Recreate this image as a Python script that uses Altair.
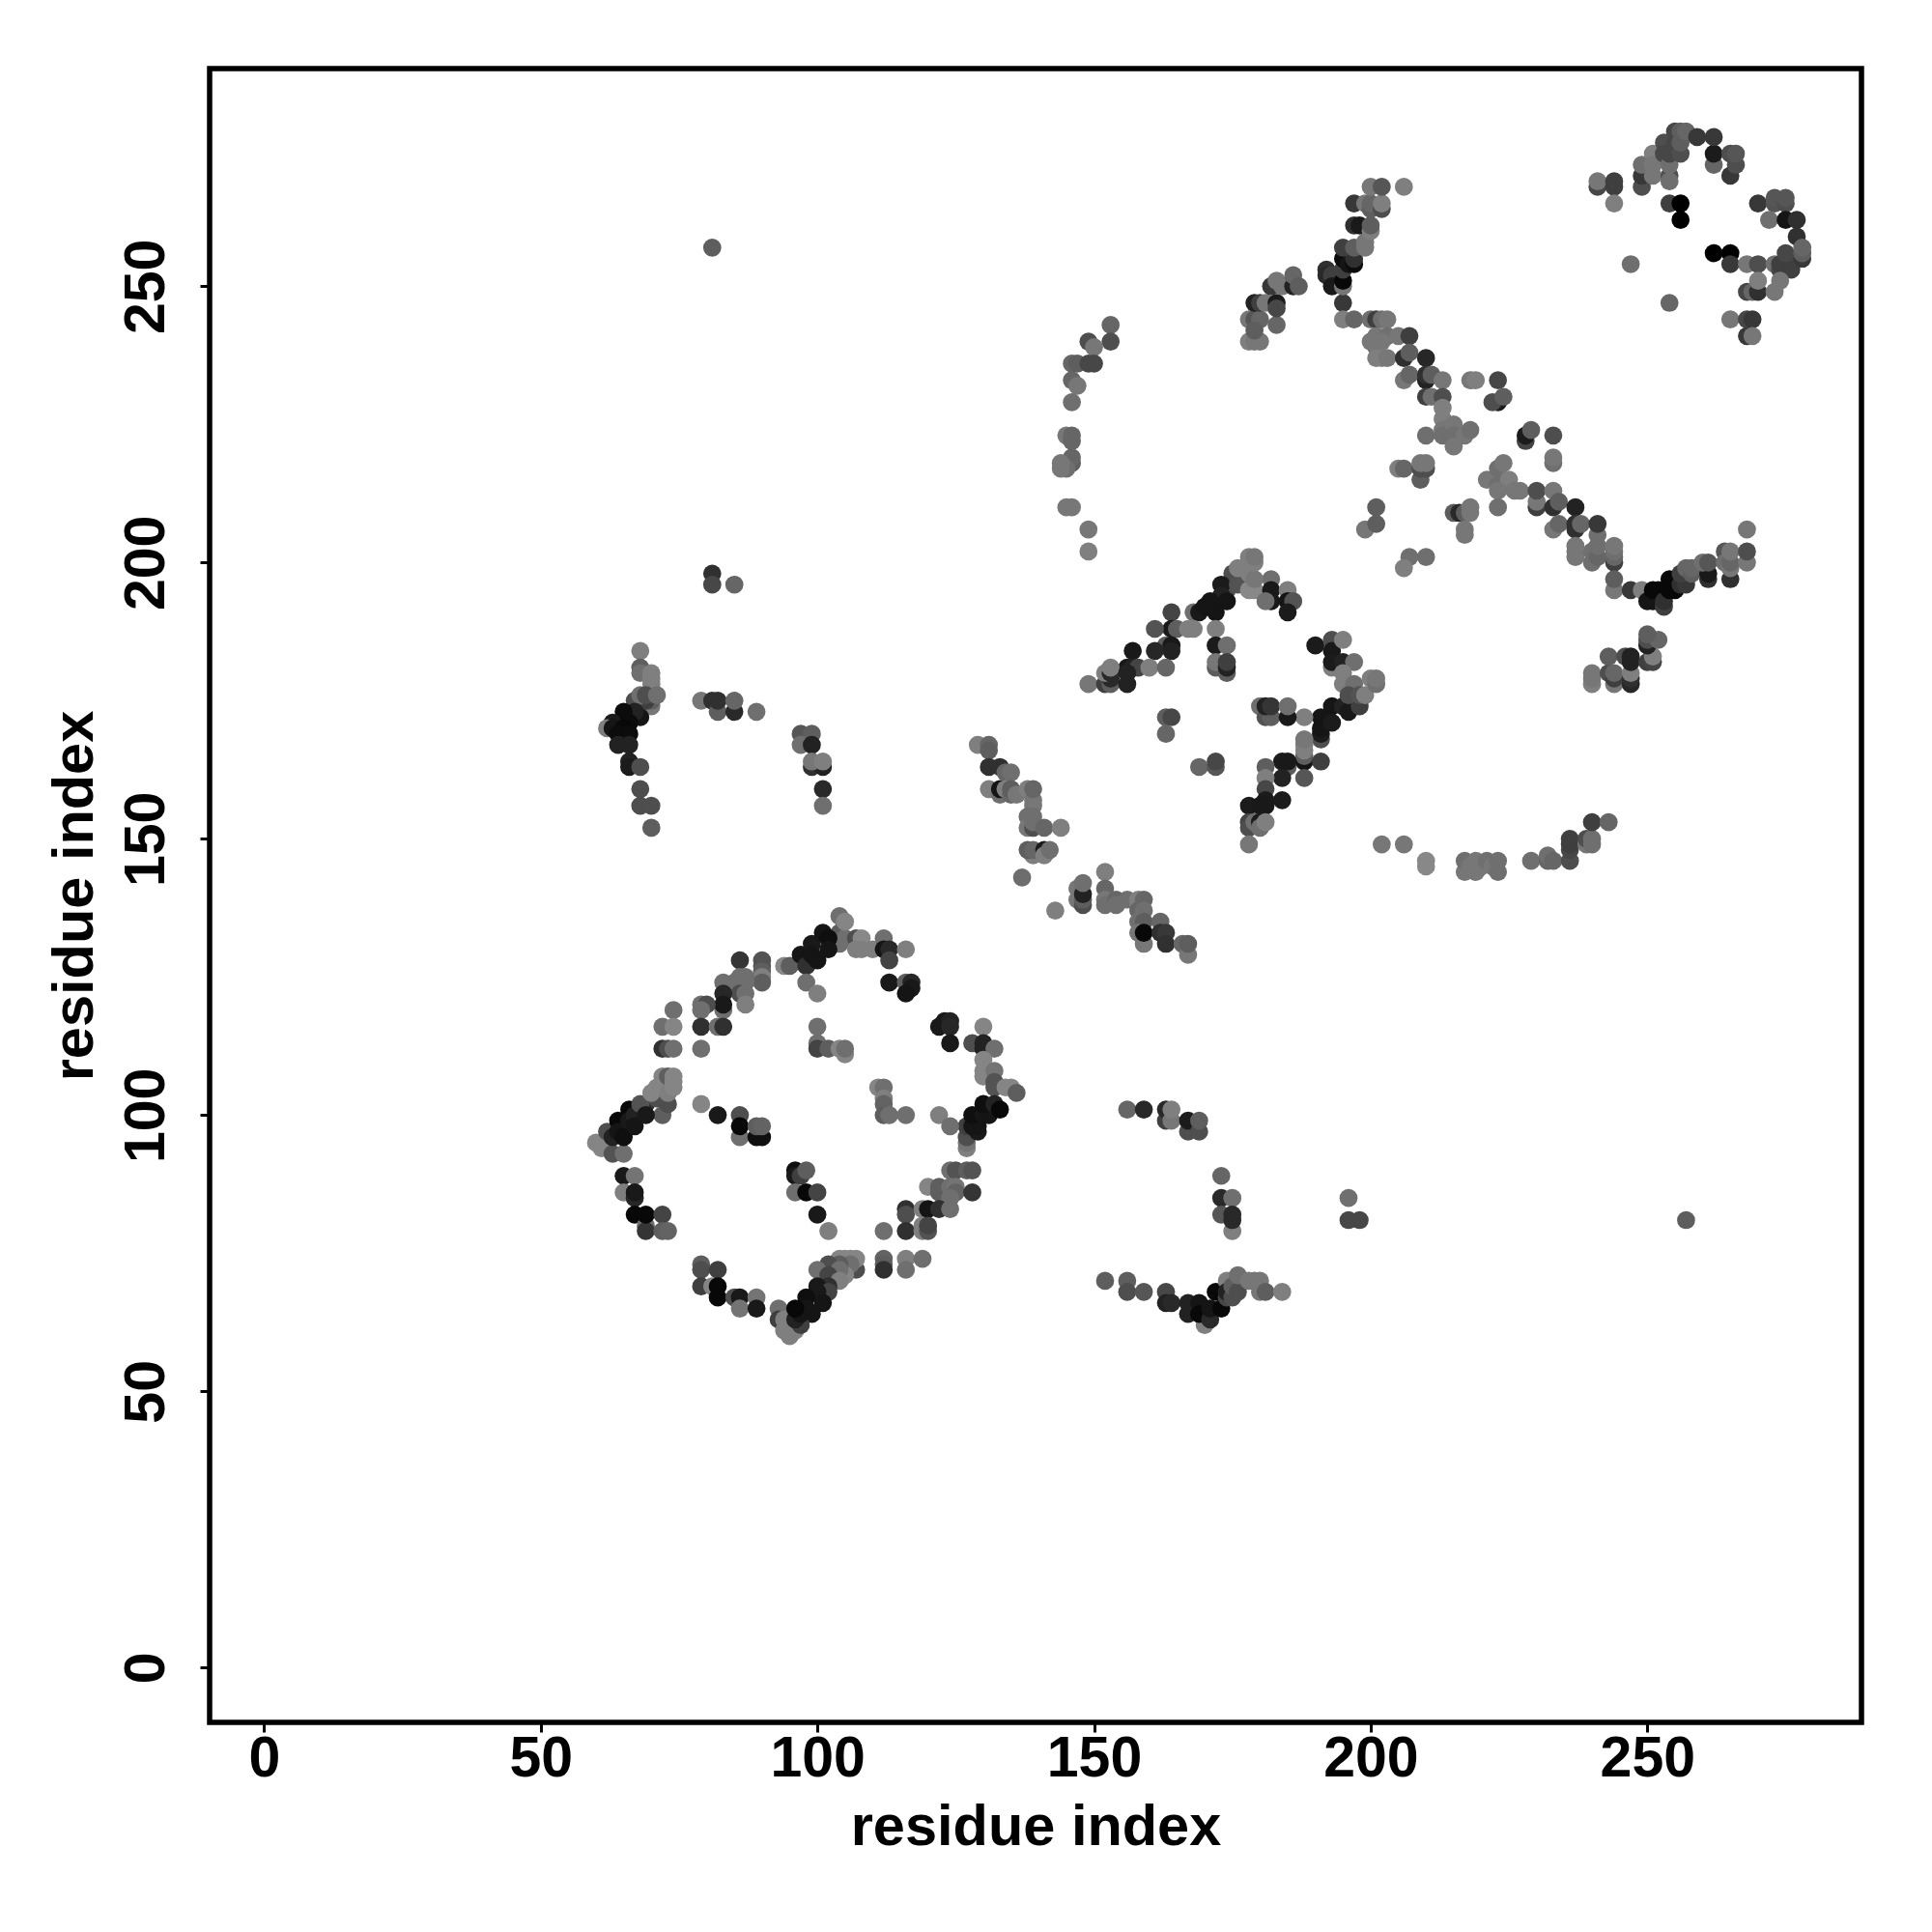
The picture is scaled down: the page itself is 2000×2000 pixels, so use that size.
import altair as alt
import pandas as pd

# (residue i, residue j, shade level 0 = strongest ... 136 = weakest)
diamond_top = [
(137,143,0x6e),(143,137,0x80),(104,136,0x70),(104,133,0x60),(104,131,0x70),(105,132,0x70),(107,132,0x50),(108,132,0x88),(107,130,0x80),(108,130,0x80),(110,130,0x80),(112,132,0x70),(112,130,0x10),(113,130,0x28),(113,128,0x45),(116,130,0x80),
(94,127,0x88),(95,127,0x60),(97,129,0x10),(98,127,0x30),(99,131,0x15),(99,129,0x10),(100,128,0x10),(101,133,0x10),(102,132,0x0a),(102,130,0x10),(105,135,0x85),
(113,124,0x15),(116,124,0x60),(117,124,0x25),(117,123,0x15),(116,122,0x10),(98,124,0x70),(100,122,0x80),
(86,128,0x35),(90,128,0x55),(90,127,0x55),(90,126,0x60),(90,125,0x80),(90,124,0x60),(83,124,0x70),(85,124,0x70),(86,125,0x70),(87,125,0x70),(87,124,0x70),(86,122,0x50),(87,122,0x70),(87,120,0x80),
(83,119,0x70),(83,122,0x25),(83,120,0x15),(79,120,0x70),(80,120,0x50),(79,119,0x70),(74,119,0x70),(72,116,0x70),(74,116,0x85),(79,116,0x30),(82,116,0x70),(83,116,0x30),
(72,112,0x30),(73,112,0x50),(74,112,0x70),(79,112,0x70),(100,116,0x70),(100,113,0x70),(100,112,0x45),(102,112,0x60),(104,112,0x85),(105,111,0x85),(105,112,0x70),
]
diamond_right = [
(122,116,0x15),(123,117,0x15),(124,117,0x20),(124,116,0x25),(124,113,0x15),(130,116,0x85),(128,113,0x50),(130,113,0x20),(130,112,0x20),(132,112,0x70),
(130,110,0x85),(130,108,0x85),(130,107,0x85),(132,108,0x75),(132,106,0x55),(132,105,0x55),(134,105,0x85),(135,105,0x85),(136,104,0x60),
(127,94,0x80),(127,95,0x75),(127,96,0x50),(127,98,0x40),(129,97,0x15),(129,98,0x10),(128,98,0x10),(128,100,0x0a),(130,100,0x10),(131,100,0x10),(130,102,0x0a),(132,102,0x20),(133,101,0x05),
(122,100,0x80),(124,98,0x70),(111,105,0x85),(112,105,0x70),(112,103,0x80),(112,102,0x65),(112,100,0x60),(113,100,0x70),(116,100,0x70),
]
diamond_left = [
(60,95,0x85),(61,94,0x85),(63,93,0x55),(65,93,0x70),(62,97,0x50),(63,96,0x20),(64,99,0x05),(64,97,0x10),(65,96,0x0a),(66,101,0x05),(66,99,0x15),(67,100,0x20),(67,98,0x10),
(72,100,0x60),(73,102,0x50),(69,102,0x30),(68,102,0x55),(69,100,0x15),(71,103,0x50),(70,104,0x85),(71,105,0x85),(72,105,0x85),(73,104,0x80),(72,107,0x85),(73,107,0x60),(74,107,0x85),(74,106,0x85),(74,105,0x85),
(79,102,0x85),(82,100,0x15),(86,100,0x50),(86,96,0x70),(86,98,0x05),(89,96,0x0a),(90,96,0x0a),(89,98,0x60),(90,98,0x65),
(65,89,0x15),(67,89,0x75),(65,86,0x80),(67,85,0x25),(67,86,0x15),(67,82,0x05),(69,80,0x70),(69,79,0x35),(69,82,0x05),(72,82,0x45),(72,79,0x60),(73,79,0x65),
(96,90,0x0a),(96,89,0x15),(97,89,0x40),(98,90,0x60),(96,86,0x70),(98,86,0x05),(100,86,0x45),(100,82,0x15),(102,79,0x80),
]
diamond_bottom = [
(124,90,0x70),(125,90,0x55),(127,90,0x60),(128,90,0x55),(120,87,0x85),(122,87,0x60),(122,86,0x60),(124,87,0x70),(125,87,0x75),(125,86,0x65),(124,85,0x70),(128,86,0x35),
(116,83,0x30),(116,82,0x50),(119,83,0x80),(120,83,0x10),(122,83,0x30),(124,83,0x70),(116,79,0x30),(119,80,0x80),(119,79,0x80),(120,79,0x55),(120,80,0x45),(112,79,0x70),
(112,74,0x65),(112,73,0x60),(112,72,0x30),(116,74,0x80),(116,72,0x70),(119,74,0x70),
(107,72,0x50),(107,74,0x85),(106,74,0x85),(105,74,0x85),(104,74,0x85),(106,73,0x70),(105,71,0x85),(104,73,0x60),(102,73,0x50),(100,72,0x70),(104,72,0x70),(102,71,0x45),(104,70,0x80),(102,69,0x30),(100,69,0x15),(102,68,0x45),(100,68,0x15),
(101,66,0x10),(98,67,0x0a),(98,65,0x10),(99,64,0x10),(93,65,0x70),(93,63,0x40),(94,63,0x80),(94,61,0x80),(95,60,0x80),(96,61,0x80),(97,62,0x40),(96,63,0x20),(97,64,0x10),(96,65,0x05),
(79,73,0x60),(79,72,0x50),(82,72,0x40),(79,69,0x40),(81,69,0x85),(82,69,0x05),(82,67,0x05),(85,67,0x50),(86,67,0x15),(86,65,0x75),(89,67,0x75),(89,65,0x15),
]
centre_top = [
(149,206,0x78),(149,202,0x80),(207,201,0x70),(210,201,0x70),(206,199,0x80),
(174,195,0x50),(174,196,0x50),(175,198,0x50),(173,196,0x18),(173,194,0x20),(174,193,0x10),(176,196,0x55),(178,195,0x88),(179,195,0x88),(182,197,0x70),(182,195,0x15),(182,193,0x15),(181,193,0x70),(185,195,0x80),(185,193,0x10),(186,193,0x55),(185,191,0x18),
(176,199,0x80),(178,198,0x80),(179,197,0x78),(178,201,0x80),(179,200,0x80),(179,201,0x78),
(168,191,0x70),(169,191,0x15),(170,192,0x10),(171,193,0x10),(172,191,0x10),
(164,191,0x45),(164,188,0x15),(161,188,0x55),(165,188,0x60),(167,188,0x80),(168,188,0x80),(172,188,0x80),(172,185,0x18),(174,185,0x70),(172,181,0x60),(172,182,0x78),(174,180,0x60),(174,181,0x20),(174,182,0x40),
(163,185,0x60),(164,185,0x15),(164,184,0x20),(161,184,0x25),(157,184,0x15),(156,181,0x15),(157,181,0x20),(158,181,0x45),(160,181,0x80),(163,181,0x68),
(149,178,0x78),(152,178,0x40),(153,178,0x60),(153,179,0x28),(152,180,0x80),(153,180,0x28),(153,181,0x80),(156,178,0x20),(156,180,0x20),
]
centre_right = [
(190,185,0x18),(193,186,0x50),(193,184,0x15),(195,186,0x80),(193,181,0x80),(193,182,0x18),(195,182,0x20),(197,182,0x70),(195,180,0x80),(195,178,0x80),(197,178,0x70),
(193,174,0x10),(195,174,0x20),(196,173,0x15),(198,174,0x40),(196,176,0x50),(198,176,0x55),(199,176,0x80),(200,179,0x80),(201,178,0x70),(201,179,0x78),
(191,168,0x50),(191,169,0x18),(191,170,0x10),(191,172,0x10),(193,171,0x18),(188,172,0x80),
(180,174,0x70),(181,172,0x55),(182,172,0x60),(181,174,0x20),(182,174,0x35),(185,172,0x15),(185,174,0x70),
(163,172,0x60),(164,172,0x48),(163,169,0x68),(169,163,0x68),(172,163,0x58),(172,164,0x48),
(188,164,0x10),(188,165,0x60),(188,166,0x80),(188,167,0x80),(188,168,0x78),(191,164,0x40),(185,163,0x60),(184,164,0x18),(185,164,0x15),(184,161,0x20),(188,161,0x58),
(181,163,0x60),(181,161,0x80),(181,159,0x48),(184,157,0x18),(181,157,0x18),(178,156,0x18),(180,156,0x15),(181,156,0x15),
(178,153,0x45),(178,152,0x50),(179,153,0x70),(180,153,0x18),(180,152,0x70),(181,153,0x80),(178,149,0x78),
(202,149,0x78),(206,149,0x78),(210,146,0x88),(210,145,0x88),
]
strand_lower = [
(217,144,0x78),(217,146,0x70),(218,145,0x78),(219,144,0x78),(219,146,0x78),(220,145,0x78),(221,146,0x70),(222,145,0x78),(223,144,0x70),(223,146,0x70),
(229,146,0x70),(232,146,0x68),(232,147,0x70),(233,146,0x68),(236,146,0x50),(236,148,0x48),(236,149,0x40),(236,150,0x40),
(239,149,0x78),(239,150,0x50),(240,149,0x70),(240,150,0x70),(240,153,0x40),(243,153,0x68),
]
strand_mid = [
(129,167,0x80),(131,167,0x68),(131,166,0x60),(131,163,0x30),(133,163,0x30),(134,162,0x68),(135,162,0x70),
(131,159,0x80),(133,158,0x70),(133,159,0x10),(134,159,0x80),(135,158,0x68),(135,159,0x60),(136,158,0x78),(138,159,0x80),(139,157,0x78),(139,156,0x78),(138,154,0x70),(138,152,0x78),(139,152,0x50),(139,153,0x70),(139,154,0x70),(139,159,0x68),(141,152,0x68),(144,152,0x80),
(139,147,0x80),(138,148,0x60),(139,148,0x68),(141,148,0x18),(141,147,0x80),(142,148,0x70),
(152,144,0x80),(147,141,0x78),(147,139,0x78),(148,138,0x50),(148,139,0x60),(148,140,0x20),(148,142,0x70),
(152,141,0x68),(152,139,0x78),(152,138,0x70),(154,139,0x68),(154,138,0x70),(156,139,0x70),(158,138,0x78),(158,139,0x80),(159,139,0x68),(158,137,0x68),(159,137,0x70),(158,135,0x70),(159,135,0x60),(162,135,0x68),(158,133,0x78),(159,131,0x78),(159,133,0x05),
(162,133,0x30),(163,133,0x38),(163,131,0x30),(166,131,0x68),(167,129,0x78),(167,131,0x60),
]
strand_upper = [
(195,247,0x38),(195,244,0x80),(197,244,0x68),(200,244,0x70),(201,244,0x40),(202,244,0x70),(203,244,0x78),
(201,239,0x70),(200,240,0x78),(201,241,0x78),(203,241,0x70),(202,240,0x78),(205,241,0x78),(207,241,0x40),
(201,237,0x80),(202,237,0x80),(203,237,0x78),(206,237,0x30),(207,238,0x60),(210,237,0x25),
(206,233,0x78),(207,234,0x68),(210,233,0x20),(210,234,0x30),(211,234,0x60),(213,233,0x78),
(210,230,0x40),(211,230,0x70),(213,230,0x50),(218,233,0x78),(219,233,0x80),(223,233,0x48),(223,229,0x18),(222,229,0x50),(224,230,0x60),
(213,228,0x80),(213,226,0x80),(210,223,0x70),(213,224,0x78),(213,223,0x70),(215,225,0x78),(215,223,0x70),(215,221,0x78),(217,223,0x78),(218,224,0x70),
(205,217,0x80),(206,217,0x68),(209,215,0x60),(209,217,0x50),(210,217,0x50),(209,218,0x78),(210,218,0x78),(201,210,0x60),(199,206,0x78),(201,207,0x60),
(228,222,0x45),(228,223,0x18),(229,224,0x60),(233,223,0x50),(233,218,0x70),(233,219,0x78),
(221,215,0x78),(223,217,0x70),(224,218,0x78),(223,214,0x70),(225,215,0x80),(223,213,0x78),(226,213,0x78),(227,213,0x78),(223,210,0x70),
(215,209,0x60),(216,209,0x28),(217,209,0x60),(218,210,0x78),(218,209,0x78),(217,206,0x78),(217,205,0x78),
(230,210,0x40),(230,211,0x78),(230,213,0x50),(233,210,0x30),(233,213,0x78),(234,211,0x60),(237,210,0x20),(233,206,0x78),(234,207,0x68),(237,206,0x30),(237,207,0x30),(238,207,0x68),(241,205,0x70),(241,207,0x38),
(237,201,0x78),(237,202,0x78),(237,203,0x78),(240,200,0x70),(240,202,0x70),(241,201,0x68),(241,203,0x70),
(244,200,0x40),(244,201,0x68),(244,202,0x70),(244,203,0x78),(244,195,0x78),(244,197,0x60),(247,195,0x38),
]
arc_right = [
(249,195,0x80),(250,193,0x10),(251,193,0x10),(251,195,0x05),(252,195,0x05),(253,192,0x40),(253,193,0x30),(254,195,0x05),(255,195,0x05),(254,197,0x05),(256,196,0x30),(257,196,0x38),(256,198,0x40),(257,199,0x68),(258,198,0x60),(258,199,0x68),
(261,197,0x30),(261,198,0x15),(260,200,0x70),(261,200,0x58),(265,197,0x30),(264,202,0x58),(264,200,0x70),(265,199,0x78),(265,200,0x68),(265,202,0x78),(268,200,0x78),(268,202,0x50),(268,206,0x78),
(240,178,0x80),(240,179,0x78),(240,180,0x78),(243,180,0x50),(244,178,0x78),(244,179,0x40),(244,180,0x68),(247,178,0x25),(247,179,0x30),(247,180,0x80),(243,183,0x60),(246,183,0x50),(247,182,0x20),(247,183,0x20),
(250,182,0x40),(251,182,0x45),(251,183,0x80),(250,185,0x20),(250,186,0x50),(252,186,0x68),(250,187,0x60),
]
helix_top = [
(153,243,0x68),(153,240,0x50),(149,240,0x50),(150,239,0x78),(146,236,0x68),(147,236,0x60),(149,236,0x48),(150,236,0x48),(146,233,0x68),(147,232,0x78),(146,229,0x70),
(145,223,0x78),(146,223,0x68),(146,222,0x68),(146,218,0x60),(146,219,0x68),(145,217,0x70),(144,218,0x78),(144,217,0x78),(145,210,0x78),(146,210,0x78),
(178,240,0x80),(179,240,0x78),(180,240,0x78),(178,244,0x78),(179,244,0x58),(180,244,0x68),(179,242,0x60),(183,243,0x68),(179,247,0x20),(180,247,0x40),(181,247,0x78),(183,247,0x18),(183,246,0x48),
(182,250,0x38),(183,251,0x78),(184,250,0x78),(186,250,0x20),(186,252,0x68),(187,250,0x60),
(192,253,0x30),(192,252,0x28),(193,252,0x40),(193,250,0x15),(195,250,0x78),(195,251,0x05),(195,253,0x40),(195,255,0x08),(196,254,0x10),(197,254,0x08),(197,255,0x30),(195,257,0x40),(197,257,0x60),(199,258,0x78),(199,257,0x78),
(197,261,0x30),(198,261,0x15),(200,260,0x80),(200,261,0x60),(197,265,0x38),(199,265,0x78),(200,264,0x60),(200,265,0x68),(202,264,0x50),(202,265,0x80),(200,268,0x78),(202,268,0x58),(206,268,0x80),
]
corner = [
(241,268,0x48),(241,269,0x78),(244,268,0x40),(244,269,0x40),(244,265,0x80),(247,254,0x70),(254,247,0x68),
(254,265,0x40),(256,265,0x00),(256,262,0x00),(262,256,0x00),(265,256,0x00),(265,254,0x38),
(249,268,0x50),(249,270,0x38),(249,272,0x70),(251,274,0x80),(251,270,0x78),(251,272,0x78),(253,276,0x50),(253,274,0x48),(254,270,0x50),(254,269,0x70),(254,272,0x70),(254,274,0x48),(255,278,0x48),(255,276,0x48),(256,274,0x50),(256,276,0x60),(256,278,0x60),(257,278,0x68),
(259,277,0x38),(262,272,0x68),(262,274,0x18),(262,277,0x38),(265,270,0x38),(265,274,0x50),(266,272,0x50),(266,274,0x58),
(270,265,0x38),(273,265,0x55),(273,266,0x58),(275,265,0x50),(275,266,0x58),(272,262,0x70),(275,262,0x10),(277,262,0x30),(277,259,0x30),
(268,254,0x78),(270,254,0x50),(273,254,0x70),(274,253,0x48),(274,254,0x40),(276,253,0x40),(276,255,0x40),(275,256,0x48),(278,255,0x38),(278,256,0x60),(278,257,0x68),
(268,249,0x48),(269,249,0x68),(270,249,0x30),(270,251,0x80),(274,251,0x78),(273,249,0x78),
(265,244,0x78),(268,244,0x48),(269,244,0x38),(268,241,0x38),(269,241,0x78),
]
left_arc = [
(68,184,0x80),(68,181,0x60),(68,180,0x70),(70,180,0x80),(70,179,0x80),(70,178,0x80),(70,174,0x78),(70,175,0x60),(69,175,0x40),(67,175,0x50),(68,176,0x70),(69,176,0x50),(71,176,0x70),
(68,172,0x10),(67,173,0x20),(65,173,0x08),(66,171,0x08),(63,171,0x18),(62,170,0x80),(63,170,0x10),(65,170,0x05),(64,169,0x08),(66,169,0x08),(64,167,0x20),(66,167,0x20),
(66,164,0x20),(66,163,0x18),(68,163,0x50),(68,159,0x50),(68,156,0x50),(70,156,0x50),(70,152,0x60),
(79,175,0x78),(81,175,0x30),(82,173,0x60),(82,175,0x30),(85,173,0x28),(85,175,0x68),(89,173,0x70),
(97,169,0x58),(99,169,0x60),(97,167,0x70),(99,167,0x20),(99,163,0x30),(101,163,0x20),(99,164,0x78),(101,164,0x80),(101,159,0x28),(101,156,0x70),
(81,257,0x60),(81,198,0x30),(81,196,0x48),(85,196,0x68),
]
lower_arc = [
(156,101,0x68),(159,101,0x28),(163,99,0x40),(163,101,0x28),(164,99,0x78),(164,101,0x80),(167,97,0x50),(167,99,0x18),(169,97,0x50),(169,99,0x60),
(173,89,0x68),(173,85,0x28),(175,85,0x70),(173,82,0x58),(175,79,0x80),(175,81,0x28),(175,82,0x28),
(196,85,0x70),(196,81,0x48),(198,81,0x48),(257,81,0x60),
(152,70,0x60),(156,70,0x60),(156,68,0x50),(159,68,0x58),(163,68,0x48),(163,66,0x20),(164,66,0x28),(167,66,0x20),(167,64,0x20),(170,62,0x80),(169,66,0x10),(169,64,0x05),(171,63,0x28),(171,65,0x10),(173,65,0x05),(172,68,0x05),
(174,70,0x80),(174,67,0x48),(174,68,0x20),(175,67,0x50),(175,69,0x60),(176,68,0x50),(176,71,0x70),(178,70,0x78),(179,70,0x78),(180,70,0x78),(180,68,0x78),(181,68,0x60),(184,68,0x80),
]

clusters = [diamond_top, diamond_right, diamond_left, diamond_bottom, centre_top, centre_right, strand_lower,
            strand_mid, strand_upper, arc_right, helix_top, corner, left_arc, lower_arc]
rows = [p for c in clusters for p in c]
df = pd.DataFrame(rows, columns=["i", "j", "shade"])
ticks = [0, 50, 100, 150, 200, 250]
FONT = "Liberation Sans"

chart = (
    alt.Chart(df)
    .mark_circle(size=350, opacity=1, strokeWidth=0)
    .encode(
        x=alt.X("i:Q", scale=alt.Scale(domain=[-9.83, 288.7], nice=False, zero=False),
                axis=alt.Axis(values=ticks, title="residue index", grid=False, domain=False,
                              format="d", tickSize=10, tickWidth=3, tickColor="black",
                              labelFont=FONT, labelFontSize=59, labelFontWeight="bold", labelColor="black",
                              labelPadding=-2, labelFlush=False, labelOverlap=False,
                              titleFont=FONT, titleFontSize=59.5, titleFontWeight="bold", titleColor="black",
                              titlePadding=12)),
        y=alt.Y("j:Q", scale=alt.Scale(domain=[-9.91, 289.4], nice=False, zero=False),
                axis=alt.Axis(values=ticks, title="residue index", grid=False, domain=False,
                              format="d", tickSize=10, tickWidth=3, tickColor="black",
                              labelFont=FONT, labelFontSize=59, labelFontWeight="bold", labelColor="black",
                              labelAngle=270, labelAlign="center", labelBaseline="bottom",
                              labelPadding=26, labelFlush=False, labelOverlap=False,
                              titleFont=FONT, titleFontSize=59.5, titleFontWeight="bold", titleColor="black",
                              titlePadding=15)),
        color=alt.Color("shade:Q", legend=None,
                        scale=alt.Scale(domain=[0, 136], range=["#000000", "#888888"])),
    )
    .properties(width=1710, height=1712, background="white",
                autosize=alt.AutoSizeParams(type="none"),
                padding={"left": 209, "top": 63, "right": 60, "bottom": 200})
    .configure_view(stroke="black", strokeWidth=5.5, fill="white")
)
chart.save("out.html", embed_options={"renderer": "svg", "actions": False})
